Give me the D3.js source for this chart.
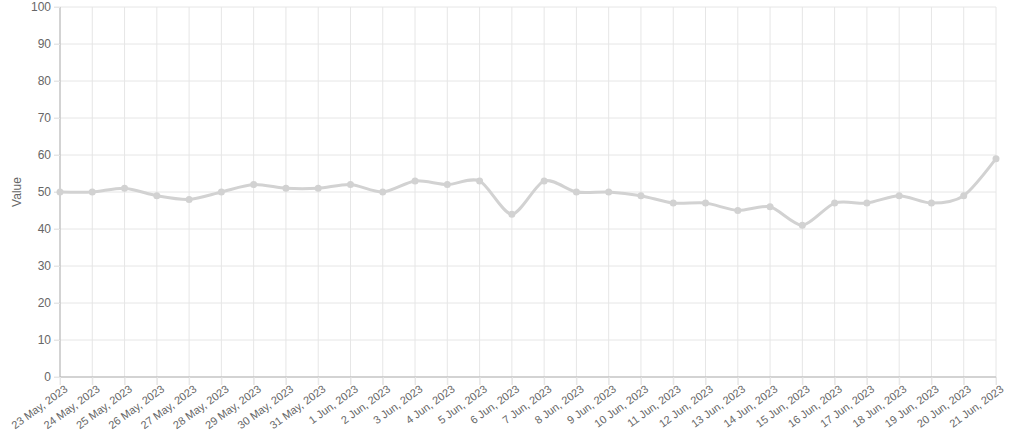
<!DOCTYPE html>
<html>
<head>
<meta charset="utf-8">
<script src="https://cdn.jsdelivr.net/npm/d3@7"></script>
<style>
  body { margin: 0; background: #fff; }
  svg { display: block; font-family: "Liberation Sans", Arial, sans-serif; }
  .grid line { stroke: #e6e6e6; stroke-width: 1; }
  .tick text { fill: #666; font-size: 12px; }
</style>
</head>
<body>
<svg id="chart" width="1011" height="440"></svg>
<script>
// Data
const DATES = [
  '23 May, 2023', '24 May, 2023', '25 May, 2023', '26 May, 2023', '27 May, 2023',
  '28 May, 2023', '29 May, 2023', '30 May, 2023', '31 May, 2023', '1 Jun, 2023',
  '2 Jun, 2023', '3 Jun, 2023', '4 Jun, 2023', '5 Jun, 2023', '6 Jun, 2023',
  '7 Jun, 2023', '8 Jun, 2023', '9 Jun, 2023', '10 Jun, 2023', '11 Jun, 2023',
  '12 Jun, 2023', '13 Jun, 2023', '14 Jun, 2023', '15 Jun, 2023', '16 Jun, 2023',
  '17 Jun, 2023', '18 Jun, 2023', '19 Jun, 2023', '20 Jun, 2023', '21 Jun, 2023',
];
const VALUES = [
  50, 50, 51, 49, 48, 50, 52, 51, 51, 52,
  50, 53, 52, 53, 44, 53, 50, 50, 49, 47,
  47, 45, 46, 41, 47, 47, 49, 47, 49, 59,
];
const Y_TICKS = [0, 10, 20, 30, 40, 50, 60, 70, 80, 90, 100];

// Layout
const margin = {top: 7, right: 15, bottom: 63, left: 60};
const width = 1011 - margin.left - margin.right;
const height = 440 - margin.top - margin.bottom;

let svg = d3.select('#chart');
let g = svg.append('g')
    .attr('transform', 'translate(' + margin.left + ',' + margin.top + ')');

let xScale = d3.scalePoint()
    .domain(DATES)
    .range([0, width]);

let yScale = d3.scaleLinear()
    .domain([0, 100])
    .range([height, 0]);

// Grid lines
g.append('g')
    .attr('class', 'grid')
    .selectAll('line')
    .data(Y_TICKS)
    .join('line')
    .attr('x1', -6).attr('x2', width)
    .attr('y1', function(d) { return yScale(d); })
    .attr('y2', function(d) { return yScale(d); });

g.append('g')
    .attr('class', 'grid')
    .selectAll('line')
    .data(DATES)
    .join('line')
    .attr('x1', function(d) { return xScale(d); })
    .attr('x2', function(d) { return xScale(d); })
    .attr('y1', 0).attr('y2', height + 8);

// Axes
let yAxis = g.append('g')
    .call(d3.axisLeft(yScale).tickValues(Y_TICKS).tickSize(6).tickPadding(3));
yAxis.select('.domain').attr('stroke', '#b3b3b3').attr('d', 'M0,0V' + height);
yAxis.selectAll('.tick line').attr('stroke', '#e6e6e6');

let xAxis = g.append('g')
    .attr('transform', 'translate(0,' + height + ')')
    .call(d3.axisBottom(xScale).tickSize(8).tickPadding(2));
xAxis.select('.domain').attr('stroke', '#b3b3b3').attr('d', 'M0,0H' + width);
xAxis.selectAll('.tick line').attr('stroke', '#e6e6e6');
// Top-right corner of each label sits just below its tick
xAxis.selectAll('.tick text')
    .attr('x', 0)
    .attr('y', 0)
    .attr('dy', '0.75em')
    .attr('text-anchor', 'end')
    .style('font-size', '11px')
    .attr('transform', 'translate(3,7) rotate(-36)');

// Axis title
svg.append('text')
    .attr('transform', 'translate(21,' + (margin.top + height / 2) + ') rotate(-90)')
    .attr('text-anchor', 'middle')
    .attr('fill', '#666')
    .attr('font-size', 12)
    .text('Value');

// Line
let line = d3.line()
    .x(function(d, i) { return xScale(DATES[i]); })
    .y(function(d) { return yScale(d); })
    .curve(d3.curveCardinal.tension(0.2));

g.append('path')
    .attr('d', line(VALUES))
    .attr('fill', 'none')
    .attr('stroke', '#d2d2d2')
    .attr('stroke-width', 3);

g.selectAll('circle')
    .data(VALUES)
    .join('circle')
    .attr('cx', function(d, i) { return xScale(DATES[i]); })
    .attr('cy', function(d) { return yScale(d); })
    .attr('r', 3.5)
    .attr('fill', '#d2d2d2');
</script>
</body>
</html>
